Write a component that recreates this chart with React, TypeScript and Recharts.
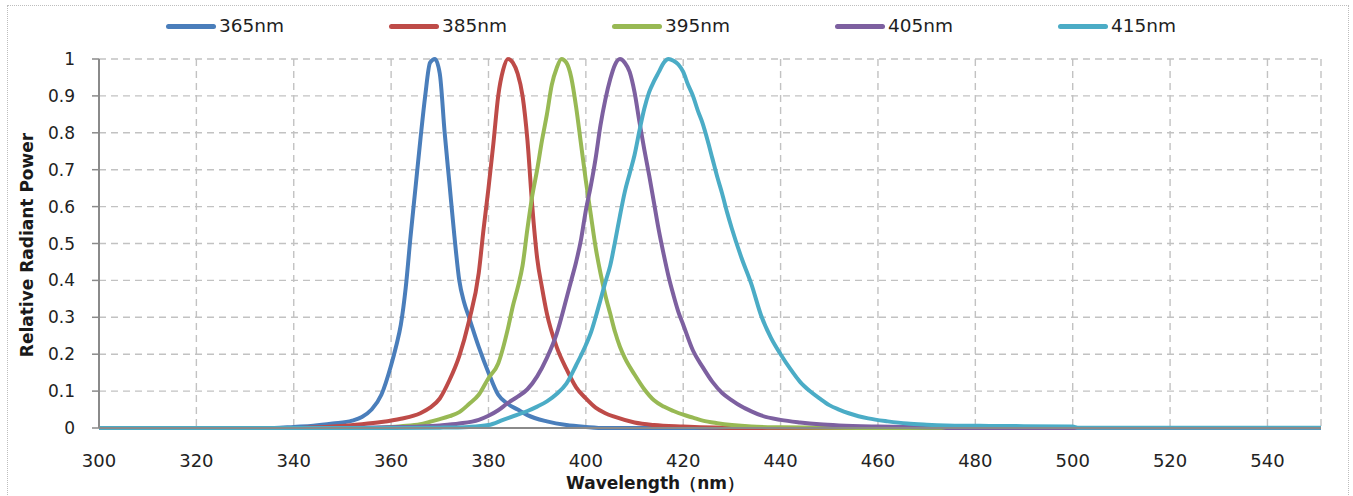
import { CartesianGrid, Label, Legend, Line, LineChart, XAxis, YAxis } from "recharts";

const xTicks = [300, 320, 340, 360, 380, 400, 420, 440, 460, 480, 500, 520, 540];
const yTicks = [0, 0.1, 0.2, 0.3, 0.4, 0.5, 0.6, 0.7, 0.8, 0.9, 1];

// 365nm
const nm365 = [300, 336, 340, 344, 348, 352, 354, 356, 358, 360, 361, 362, 363, 364, 365, 366, 367, 368, 369, 370, 371, 372, 373, 374, 375, 376, 378, 380, 382, 384, 386, 388, 392, 396, 400, 404, 551];
const p365 = [0, 0, 0.003, 0.006, 0.012, 0.02, 0.03, 0.05, 0.09, 0.17, 0.22, 0.28, 0.38, 0.52, 0.65, 0.78, 0.9, 0.99, 1.0, 0.96, 0.8, 0.66, 0.52, 0.4, 0.34, 0.3, 0.22, 0.15, 0.09, 0.065, 0.05, 0.035, 0.018, 0.008, 0.003, 0, 0];

// 385nm
const nm385 = [300, 340, 348, 354, 358, 362, 366, 368, 370, 372, 374, 376, 378, 379, 380, 381, 382, 383, 384, 385, 386, 387, 388, 389, 390, 391, 392, 394, 396, 398, 400, 402, 404, 406, 410, 414, 420, 432, 551];
const p385 = [0, 0, 0.004, 0.01, 0.016, 0.025, 0.04, 0.055, 0.08, 0.13, 0.195, 0.29, 0.42, 0.54, 0.65, 0.77, 0.9, 0.97, 1.0, 0.99, 0.96, 0.9, 0.78, 0.6, 0.46, 0.38, 0.31, 0.22, 0.16, 0.11, 0.08, 0.055, 0.04, 0.03, 0.015, 0.008, 0.004, 0, 0];

// 395nm
const nm395 = [300, 356, 362, 366, 368, 370, 372, 374, 376, 378, 380, 382, 384, 385, 386, 387, 388, 389, 390, 391, 392, 393, 394, 395, 396, 397, 398, 399, 400, 401, 402, 403, 404, 405, 406, 407, 408, 410, 412, 414, 416, 418, 420, 422, 424, 427, 430, 434, 440, 456, 551];
const p395 = [0, 0, 0.005, 0.01, 0.017, 0.024, 0.032, 0.043, 0.065, 0.09, 0.135, 0.175, 0.27, 0.33, 0.38, 0.44, 0.54, 0.63, 0.7, 0.78, 0.85, 0.93, 0.975, 1.0, 0.99, 0.95, 0.87, 0.77, 0.67, 0.58, 0.49, 0.42, 0.36, 0.31, 0.26, 0.22, 0.19, 0.145, 0.105, 0.075, 0.058, 0.046, 0.036, 0.028, 0.02, 0.013, 0.008, 0.004, 0.002, 0, 0];

// 405nm
const nm405 = [300, 350, 360, 366, 370, 374, 378, 380, 382, 384, 386, 388, 390, 392, 394, 396, 397, 398, 399, 400, 401, 402, 403, 404, 405, 406, 407, 408, 409, 410, 411, 412, 413, 414, 415, 416, 417, 418, 419, 420, 422, 424, 426, 428, 430, 432, 434, 436, 440, 444, 448, 452, 460, 473, 474, 551];
const p405 = [0, 0, 0.002, 0.004, 0.007, 0.012, 0.022, 0.033, 0.048, 0.068, 0.085, 0.105, 0.14, 0.19, 0.255, 0.35, 0.4, 0.45, 0.51, 0.59, 0.655, 0.73, 0.82, 0.89, 0.945, 0.985, 1.0, 0.99, 0.965, 0.91, 0.83, 0.755, 0.685, 0.61, 0.535, 0.47, 0.41, 0.36, 0.315, 0.28, 0.21, 0.165, 0.125, 0.095, 0.075, 0.058, 0.045, 0.034, 0.022, 0.015, 0.01, 0.007, 0.004, 0.002, 0, 0];

// 415nm
const nm415 = [300, 360, 370, 376, 380, 383, 386, 388, 390, 392, 394, 396, 398, 400, 401, 402, 403, 404, 405, 406, 407, 408, 409, 410, 411, 412, 413, 414, 415, 416, 417, 418, 419, 420, 421, 422, 423, 424, 425, 426, 427, 428, 429, 430, 432, 434, 436, 438, 440, 442, 444, 446, 448, 450, 452, 454, 456, 458, 462, 466, 470, 474, 480, 490, 500, 501, 551];
const p415 = [0, 0, 0.001, 0.003, 0.008, 0.022, 0.036, 0.046, 0.058, 0.072, 0.092, 0.12, 0.17, 0.225, 0.257, 0.3, 0.347, 0.395, 0.44, 0.505, 0.575, 0.64, 0.69, 0.74, 0.805, 0.865, 0.91, 0.94, 0.965, 0.99, 1.0, 0.995, 0.985, 0.965, 0.93, 0.9, 0.86, 0.825, 0.78, 0.73, 0.68, 0.635, 0.585, 0.54, 0.46, 0.39, 0.305, 0.245, 0.2, 0.16, 0.125, 0.1, 0.08, 0.062, 0.05, 0.04, 0.032, 0.026, 0.018, 0.012, 0.009, 0.007, 0.006, 0.005, 0.004, 0.001, 0.001];

const series = [
  { name: "365nm", nm: nm365, power: p365, color: "#4a7ebb" },
  { name: "385nm", nm: nm385, power: p385, color: "#be4b48" },
  { name: "395nm", nm: nm395, power: p395, color: "#98b954" },
  { name: "405nm", nm: nm405, power: p405, color: "#7d60a0" },
  { name: "415nm", nm: nm415, power: p415, color: "#4bacc6" },
];

const toPoints = (nm: number[], power: number[]) => nm.map((x, i) => ({ x, y: power[i] }));

const font = "'DejaVu Sans', Verdana, sans-serif";

const renderLegend = () => (
  <div style={{ display: "flex", paddingLeft: 166, fontFamily: font, fontSize: 18.5, color: "#1f1f1f", height: 22, lineHeight: "22px" }}>
    {series.map((s) => (
      <div key={s.name} style={{ width: 223, display: "flex", alignItems: "center" }}>
        <span style={{ display: "inline-block", width: 50, height: 5, borderRadius: 3, background: s.color, marginRight: 3 }} />
        <span>{s.name}</span>
      </div>
    ))}
  </div>
);

const App = () => {
  return (
    <div style={{ position: "absolute", left: 0, top: 0, width: 1353, height: 496, overflow: "hidden", background: "#fff" }}>
      <div style={{ position: "absolute", left: 7, top: 5, width: 1340, height: 520, border: "1px dotted #bdbdbd" }} />
      <LineChart width={1353} height={496} margin={{ top: 59, right: 32, bottom: 28, left: 0 }}>
        <CartesianGrid stroke="#c2c2c2" strokeWidth={1.4} strokeDasharray="7 5" />
        <XAxis
          dataKey="x"
          type="number"
          domain={[300, 551]}
          ticks={xTicks}
          allowDataOverflow
          height={40}
          tickLine={false}
          tickSize={0}
          tickMargin={26}
          axisLine={{ stroke: "#8a8a8a", strokeWidth: 2 }}
          tick={{ fontSize: 18, fontFamily: font, fill: "#222" }}
        >
          <Label
            content={() => (
              <text x={655} y={489} textAnchor="middle" fontFamily={font} fontSize={17} fontWeight="bold" fill="#1a1a1a">
                Wavelength（nm）
              </text>
            )}
          />
        </XAxis>
        <YAxis
          type="number"
          domain={[0, 1]}
          ticks={yTicks}
          width={99}
          tickSize={7}
          tickMargin={17}
          tickLine={{ stroke: "#8a8a8a", strokeWidth: 1.5 }}
          axisLine={{ stroke: "#8a8a8a", strokeWidth: 2 }}
          tick={{ fontSize: 17, fontFamily: font, fill: "#222" }}
        >
          <Label
            content={() => (
              <text
                x={27}
                y={245}
                transform="rotate(-90 27 245)"
                textAnchor="middle"
                dominantBaseline="central"
                fontFamily={font}
                fontSize={17}
                fontWeight="bold"
                fill="#1a1a1a"
              >
                Relative Radiant Power
              </text>
            )}
          />
        </YAxis>
        <Legend verticalAlign="middle" align="center" content={renderLegend} wrapperStyle={{ top: 15, left: 0, width: 1353 }} />
        {series.map((s) => (
          <Line
            key={s.name}
            name={s.name}
            data={toPoints(s.nm, s.power)}
            dataKey="y"
            type="monotone"
            stroke={s.color}
            strokeWidth={4}
            dot={false}
            activeDot={false}
            isAnimationActive={false}
          />
        ))}
      </LineChart>
    </div>
  );
};

export default App;
